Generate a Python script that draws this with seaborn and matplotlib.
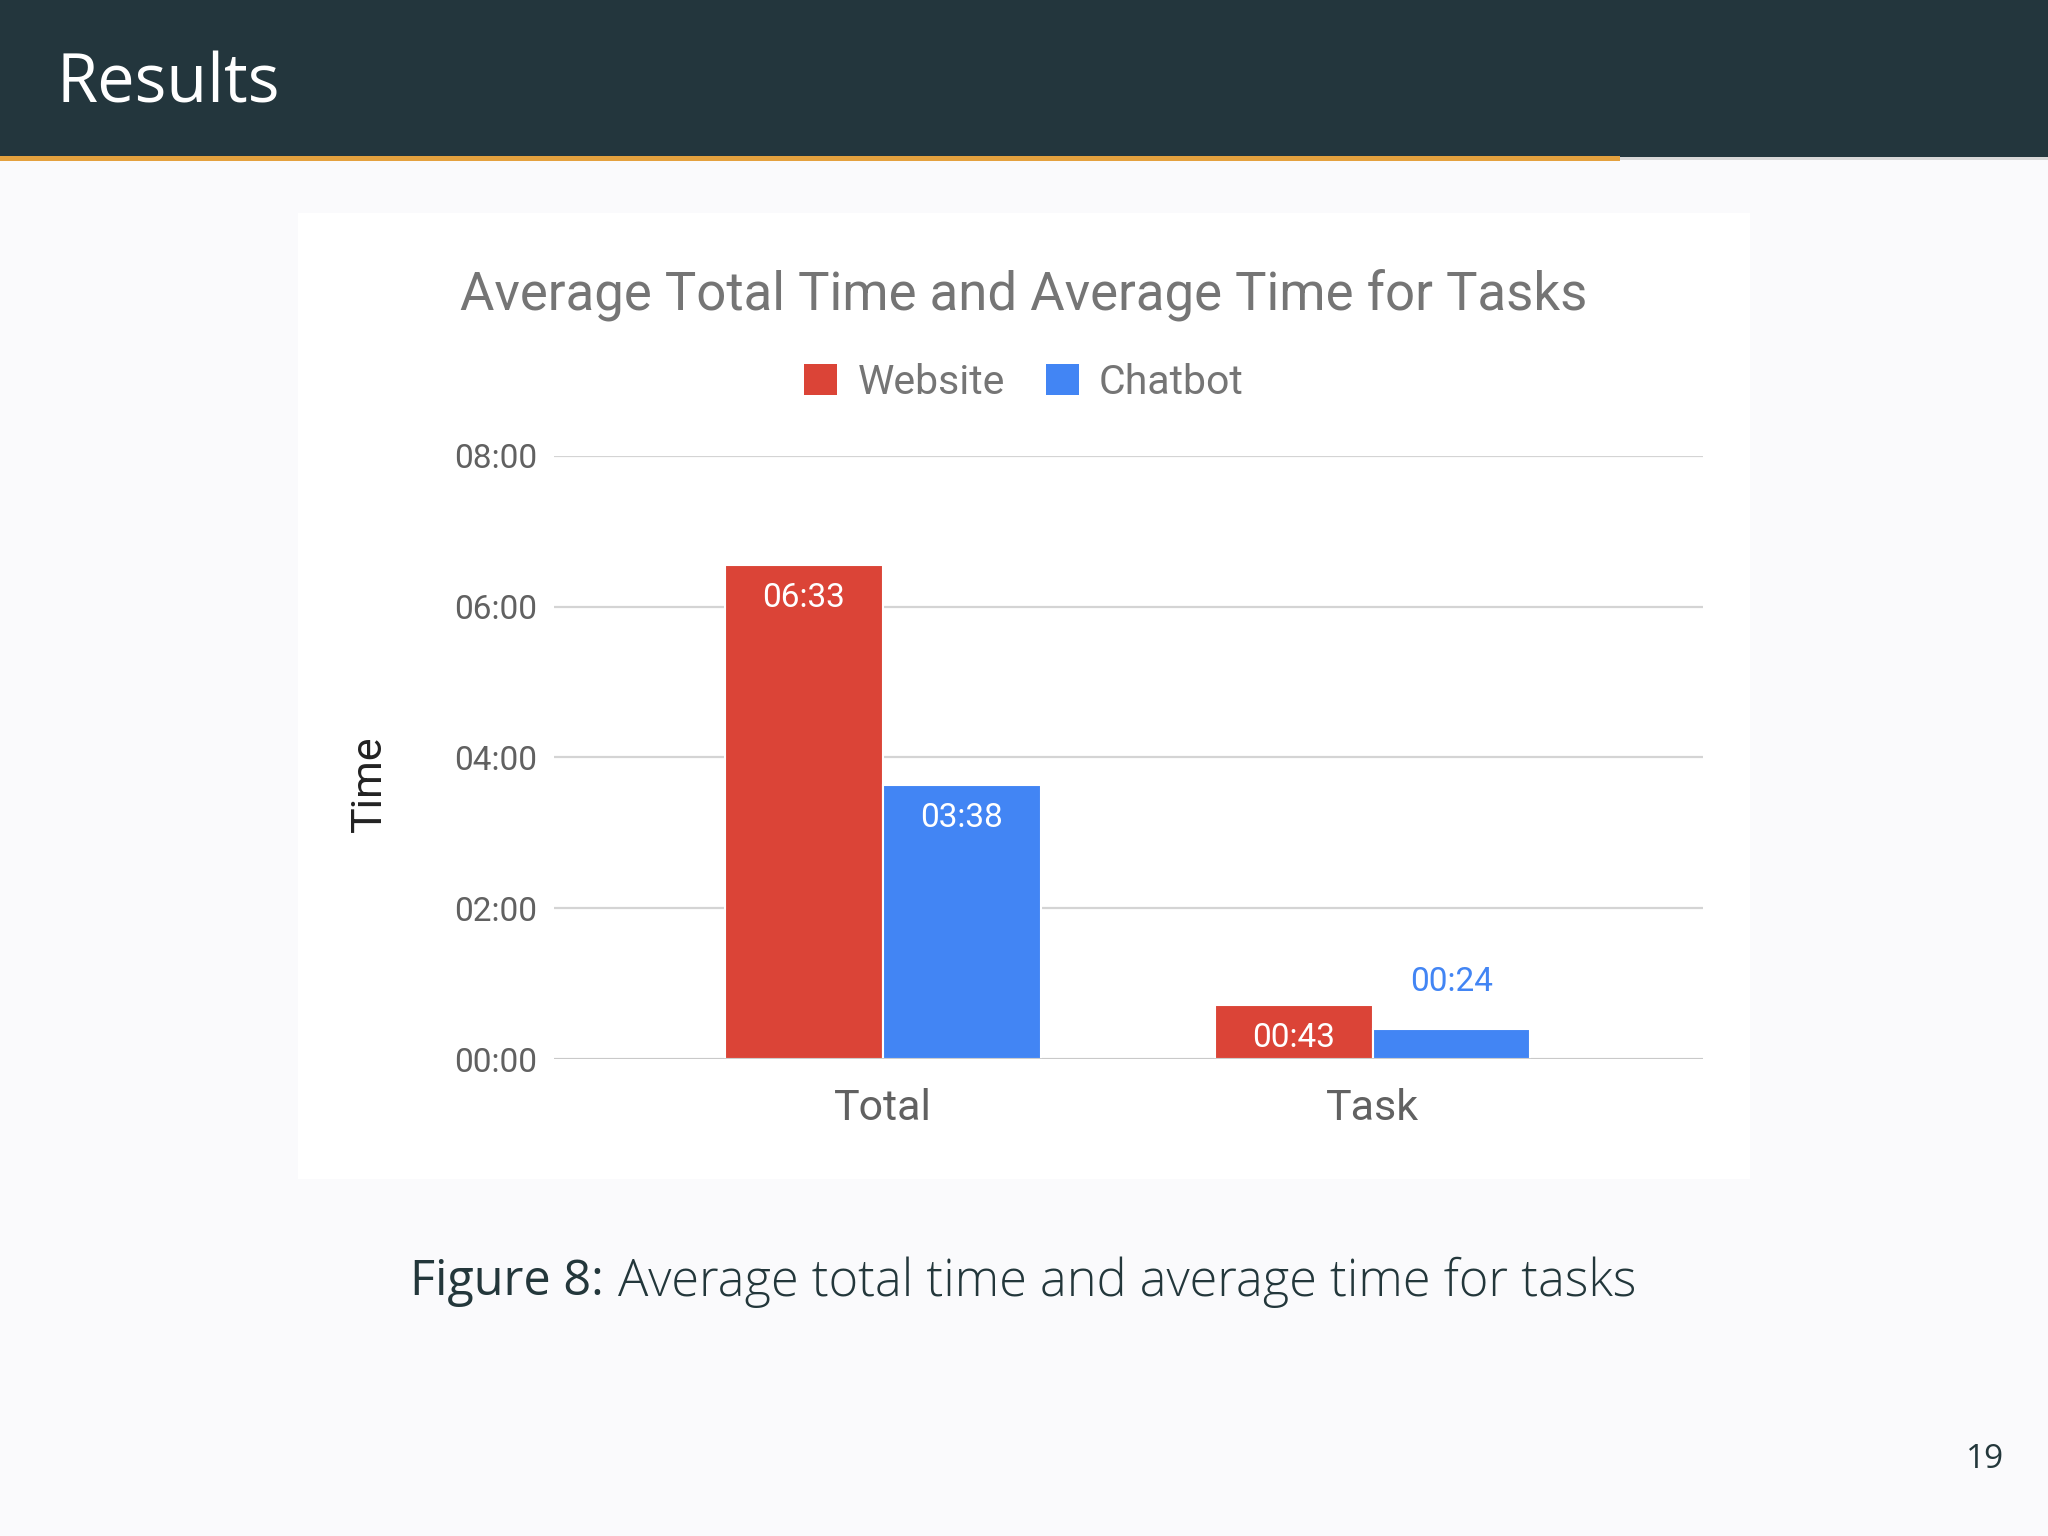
import pandas as pd
import seaborn as sns
import matplotlib.pyplot as plt
from matplotlib.patches import Rectangle, Patch
from matplotlib.ticker import FuncFormatter

# Data (seconds)
categories = ["Total", "Task"]
series = ["Website", "Chatbot"]
website_secs = [393, 43]   # 06:33, 00:43
chatbot_secs = [218, 24]   # 03:38, 00:24
y_ticks_secs = [0, 120, 240, 360, 480]

colors = {"Website": "#DB4437", "Chatbot": "#4285F4"}

df = pd.DataFrame({
    "Category": categories * 2,
    "Series": ["Website"] * len(categories) + ["Chatbot"] * len(categories),
    "Seconds": website_secs + chatbot_secs,
})


def mmss(v, pos=None):
    v = int(round(v))
    return f"{v // 60:02d}:{v % 60:02d}"


sns.set_theme(style="white")
plt.rcParams["font.family"] = ["Roboto", "DejaVu Sans"]

fig = plt.figure(figsize=(20.48, 15.36), dpi=100)
fig.patch.set_facecolor("#FAFAFC")

# Slide header
fig.add_artist(Rectangle((0, 0.898), 1, 0.102, transform=fig.transFigure,
                         facecolor="#23363D", edgecolor="none", zorder=0))
fig.add_artist(Rectangle((0, 0.8955), 0.791, 0.0028, transform=fig.transFigure,
                         facecolor="#E4A13E", edgecolor="none", zorder=1))
fig.add_artist(Rectangle((0.791, 0.8958), 0.209, 0.0018, transform=fig.transFigure,
                         facecolor="#D8D8D8", edgecolor="none", zorder=1))
fig.text(0.0274, 0.945, "Results", color="white", fontsize=48,
         family=["Open Sans", "DejaVu Sans"], ha="left", va="center")

# Chart panel
fig.add_artist(Rectangle((0.1454, 0.2322), 0.7092, 0.6292, transform=fig.transFigure,
                         facecolor="white", edgecolor="none", zorder=0))

ax = fig.add_axes([0.2704, 0.3105, 0.5612, 0.3928])
ax.set_facecolor("none")

sns.barplot(data=df, x="Category", y="Seconds", hue="Series", order=categories,
            hue_order=series, palette=colors, width=0.645, saturation=1,
            edgecolor="white", linewidth=1.5, legend=False, ax=ax, zorder=3)

ax.set_xlim(-0.672, 1.675)
ax.set_ylim(0, 480)
ax.set_yticks(y_ticks_secs)
ax.yaxis.set_major_formatter(FuncFormatter(mmss))
ax.grid(axis="y", color="#D4D4D4", linewidth=1.6, zorder=0)
ax.grid(axis="x", visible=False)
sns.despine(ax=ax, left=True, bottom=True, top=True, right=True)
ax.axhline(0, color="#C8C8C8", linewidth=2, zorder=4)

ax.tick_params(axis="y", labelsize=24, labelcolor="#616161", length=0, pad=12)
ax.tick_params(axis="x", labelsize=31, labelcolor="#616161", length=0, pad=21)
ax.set_xlabel("")
ax.set_ylabel("Time", fontsize=31, color="#222222")
ax.yaxis.label.set(va="center", rotation_mode="default")
ax.yaxis.set_label_coords(-0.160, 0.457)

# Value labels
for cont, name in zip(ax.containers, series):
    for bar in cont:
        h = bar.get_height()
        x = bar.get_x() + bar.get_width() / 2
        if h >= 35:
            ax.annotate(mmss(h), (x, h), xytext=(0, -24), textcoords="offset points",
                        ha="center", va="center", fontsize=24, color="white", zorder=5)
        else:
            ax.annotate(mmss(h), (x, h), xytext=(0, 34), textcoords="offset points",
                        ha="center", va="center", fontsize=24, color=colors[name], zorder=5)

# Title and legend
fig.text(0.5, 0.808, "Average Total Time and Average Time for Tasks",
         fontsize=38, color="#757575", ha="center", va="center")
handles = [Patch(facecolor=colors[s], edgecolor="none", label=s) for s in series]
fig.legend(handles=handles, loc="center", bbox_to_anchor=(0.5, 0.751), ncol=2,
           frameon=False, fontsize=29.5, labelcolor="#757575", handlelength=0.8,
           handleheight=0.8, handletextpad=0.5, columnspacing=1.0)

# Caption and page number
cap_font = ["Open Sans", "DejaVu Sans"]
fig.text(0.2003, 0.1650, "Figure 8:", fontsize=35, color="#23373B",
         family=cap_font, ha="left", va="center")
fig.text(0.3017, 0.1650, "Average total time and average time for tasks",
         fontsize=36.4, color="#23373B", family=cap_font, fontweight="light",
         ha="left", va="center")
fig.text(0.9694, 0.050, "19", fontsize=24, color="#23373B", family=cap_font,
         ha="center", va="center")

fig.savefig("out.png", dpi=100, facecolor=fig.get_facecolor())
